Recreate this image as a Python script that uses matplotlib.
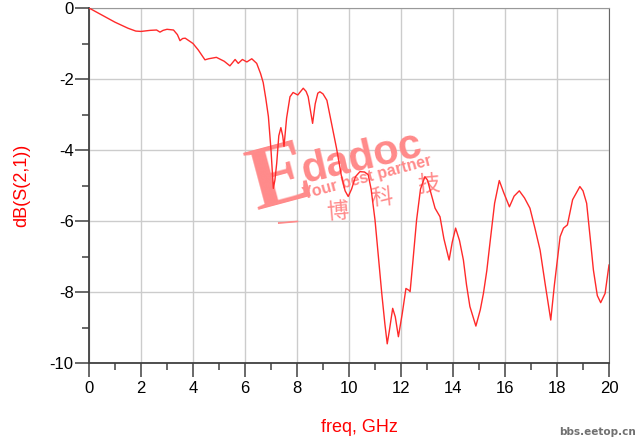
import matplotlib
matplotlib.use("Agg")
import matplotlib.pyplot as plt
from matplotlib.ticker import MultipleLocator

# S21 (GHz, dB)
FREQ = [0.0, 0.5, 1.0, 1.5, 1.8, 2.0, 2.35, 2.6, 2.73, 2.85, 3.0, 3.25, 3.4, 3.5,
        3.6, 3.7, 4.0, 4.2, 4.46, 4.6, 4.9, 5.2, 5.42, 5.62, 5.74, 5.9, 6.07,
        6.26, 6.45, 6.6, 6.7, 6.8, 6.9, 7.0, 7.09, 7.15, 7.22, 7.3, 7.38, 7.45,
        7.5, 7.6, 7.73, 7.85, 8.03, 8.24, 8.35, 8.43, 8.52, 8.6, 8.7, 8.8, 8.88,
        9.0, 9.15, 9.38, 9.52, 9.7, 9.85, 9.97, 10.1, 10.25, 10.42, 10.6, 10.74,
        10.85, 11.0, 11.13, 11.26, 11.38, 11.47, 11.55, 11.68, 11.78, 11.9,
        12.05, 12.19, 12.3, 12.35, 12.45, 12.6, 12.75, 12.92, 13.02, 13.12,
        13.31, 13.5, 13.65, 13.85, 13.97, 14.1, 14.25, 14.4, 14.52, 14.65,
        14.88, 15.05, 15.17, 15.3, 15.42, 15.6, 15.78, 15.95, 16.17, 16.35,
        16.55, 16.75, 16.96, 17.15, 17.35, 17.55, 17.76, 17.9, 18.12, 18.25,
        18.4, 18.6, 18.88, 19.0, 19.14, 19.28, 19.4, 19.55, 19.68, 19.85, 20.0]
S21_DB = [0.0, -0.2, -0.4, -0.57, -0.65, -0.66, -0.63, -0.62, -0.68, -0.63, -0.6,
          -0.62, -0.75, -0.92, -0.86, -0.85, -1.0, -1.18, -1.46, -1.43, -1.39,
          -1.5, -1.63, -1.45, -1.56, -1.45, -1.52, -1.43, -1.56, -1.85, -2.1,
          -2.55, -3.06, -4.0, -5.08, -4.85, -4.37, -3.6, -3.37, -3.6, -3.9,
          -3.1, -2.5, -2.38, -2.45, -2.26, -2.35, -2.5, -2.9, -3.25, -2.7,
          -2.4, -2.36, -2.42, -2.6, -3.44, -3.95, -4.7, -5.15, -5.31, -5.1,
          -4.75, -4.61, -4.62, -4.7, -5.1, -5.97, -7.0, -8.04, -8.9, -9.46,
          -9.1, -8.46, -8.7, -9.26, -8.6, -7.9, -7.95, -7.99, -7.2, -5.97,
          -5.1, -4.75, -4.85, -5.13, -5.64, -5.88, -6.5, -7.1, -6.6, -6.2,
          -6.55, -7.1, -7.8, -8.41, -8.96, -8.5, -8.04, -7.4, -6.63, -5.5,
          -4.86, -5.2, -5.6, -5.3, -5.15, -5.35, -5.64, -6.2, -6.82, -7.8,
          -8.79, -7.8, -6.44, -6.2, -6.11, -5.4, -5.03, -5.15, -5.5, -6.5,
          -7.38, -8.1, -8.3, -8.04, -7.24]

W, H = 640, 445


def px(x, y):
    return x / W, 1 - y / H


def main():
    plt.rcParams["font.family"] = ["Liberation Sans", "DejaVu Sans"]
    plt.rcParams["axes.unicode_minus"] = False
    fig = plt.figure(figsize=(W / 100, H / 100), dpi=100)
    ax = fig.add_axes([89 / W, 1 - 363 / H, 520 / W, 355 / H])

    ax.plot(FREQ, S21_DB, color="#ff2a2a", linewidth=1.0, zorder=3)

    ax.set_xlim(0, 20)
    ax.set_ylim(-10, 0)
    ax.xaxis.set_major_locator(MultipleLocator(2))
    ax.xaxis.set_minor_locator(MultipleLocator(1))
    ax.yaxis.set_major_locator(MultipleLocator(2))
    ax.yaxis.set_minor_locator(MultipleLocator(1))
    ax.set_axisbelow(True)
    ax.grid(which="major", color="#cccccc", linewidth=1.0)
    ax.tick_params(which="major", direction="out", length=10, width=1.1,
                   color="#404040", labelsize=12, pad=1)
    ax.tick_params(which="minor", direction="out", length=5, width=1.1,
                   color="#404040")
    ax.tick_params(axis="x", pad=3)
    for side in ("left", "bottom"):
        ax.spines[side].set_color("#404040")
        ax.spines[side].set_linewidth(1.3)
    ax.spines["top"].set_color("#999999")
    ax.spines["right"].set_color("#666666")

    fig.text(*px(359, 428), "freq, GHz", color="red", fontsize=13,
             ha="center", va="center")
    fig.text(*px(22, 185), "dB(S(2,1))", color="red", fontsize=13,
             ha="center", va="center", rotation=90)

    # watermark, kept under the curve
    wm = "#ff8a8a"
    tf = fig.transFigure
    ax.text(*px(281, 182), "E", color=wm, fontsize=66, fontweight="bold",
            family="Liberation Serif", ha="center", va="center", rotation=15,
            transform=tf, zorder=2)
    ax.text(*px(362, 158), "dadoc", color=wm, fontsize=30, fontweight="bold",
            ha="center", va="center", rotation=13, transform=tf, zorder=2)
    ax.text(*px(367, 178), "Your best partner", color=wm, fontsize=11.5,
            fontweight="bold", ha="center", va="center", rotation=15,
            transform=tf, zorder=2)
    for (x, y), ch in zip([(288, 225), (337, 212), (382, 198), (428, 185)],
                          ["一", "博", "科", "技"]):
        ax.text(*px(x, y), ch, color=wm, fontsize=16,
                family=["Noto Sans CJK SC", "DejaVu Sans"],
                ha="center", va="center", rotation=5, transform=tf, zorder=2)
    fig.text(*px(636, 432), "bbs.eetop.cn", color="#707070", fontsize=7.5,
             fontweight="bold", family="DejaVu Sans Condensed",
             ha="right", va="center")

    fig.savefig("out.png", dpi=100)


if __name__ == "__main__":
    main()
